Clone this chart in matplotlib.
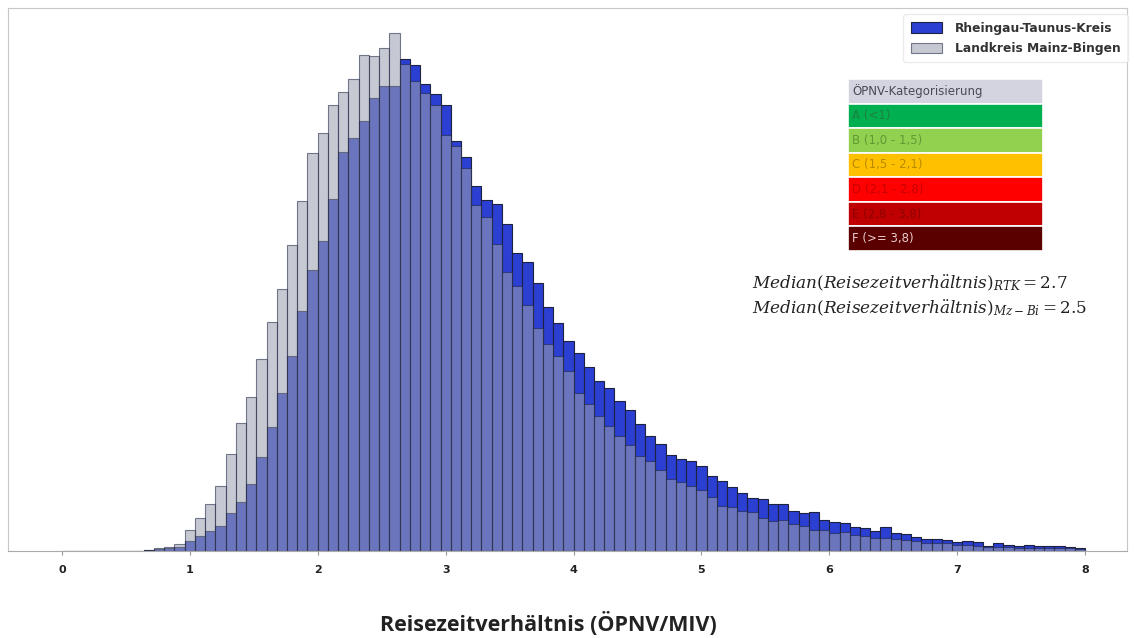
import numpy as np
import matplotlib
matplotlib.use("Agg")
import matplotlib.pyplot as plt

# histogram bins: width 0.08 from 0 to 8
bin_width = 0.08
bin_edges = np.round(np.arange(0, 8.0 + bin_width / 2, bin_width), 2)

# bin heights (relative counts)
rtk = [0] * 8 + [
    0.5, 2, 3, 4, 10, 15, 20, 25, 38, 49, 67, 94, 124, 158, 195, 240, 281, 310,
    352, 399, 413, 430, 453, 465, 465, 492, 486, 467, 457, 446, 410, 394, 365,
    351, 347, 327, 298, 289, 268, 244, 228, 210, 198, 184, 170, 163, 150, 141,
    127, 115, 107, 96, 92, 90, 85, 75, 70, 64, 57.5, 52.5, 51.5, 47, 46.5, 40,
    38, 38.5, 31, 29.3, 27.5, 24.3, 22.7, 20, 23.7, 18, 17, 14.3, 12.3, 12.3,
    11, 8.7, 10.3, 8.7, 5.3, 7.7, 6.3, 5.3, 5.7, 5, 5, 4.7, 4.3, 2.7]
mzbi = [0] * 8 + [
    1, 2.5, 4, 7, 21, 33, 47, 65, 97, 128, 154, 192, 229, 262, 306, 350, 398,
    418, 446, 459, 472, 496, 495, 503, 518, 487, 470, 458, 446, 416, 405, 383,
    346, 334, 307, 279, 265, 246, 223, 207, 195, 180, 158, 147, 135, 125, 115,
    106, 95, 90, 81, 72, 69, 65, 61, 54, 45, 43.5, 40, 39, 32.5, 30, 31, 27,
    24.5, 21, 20.5, 18, 19, 15.5, 14.5, 13, 12.7, 11.5, 11, 9.7, 7.7, 8.3, 7.7,
    6, 6.3, 5, 4.3, 4.3, 3.7, 3.3, 3.3, 3, 2.7, 2.7, 2.7, 2]

series_labels = ["Rheingau-Taunus-Kreis", "Landkreis Mainz-Bingen"]
xticks = [0, 1, 2, 3, 4, 5, 6, 7, 8]

# category table
table_header = "ÖPNV-Kategorisierung"
categories = ["A (<1)", "B (1,0 - 1,5)", "C (1,5 - 2,1)", "D (2,1 - 2,8)",
              "E (2,8 - 3,8)", "F (>= 3,8)"]
cat_colors = ["#00b050", "#92d050", "#ffc000", "#ff0000", "#c00000", "#5a0000"]
cat_text_colors = ["#1f7f3f", "#5f9a35", "#b98a00", "#c80000", "#8c0000", "#e9cccc"]

medians = [("RTK", 2.7), ("Mz-Bi", 2.5)]

fig = plt.figure(figsize=(11.34, 6.38), dpi=100)
ax = fig.add_axes([0.007, 0.1364, 0.9868, 0.8511])

ax.bar(bin_edges[:-1], rtk, width=bin_width, align="edge", color="#2b3fd2",
       edgecolor="#1c2240", linewidth=0.8, label=series_labels[0])
ax.bar(bin_edges[:-1], mzbi, width=bin_width, align="edge", color="#9b9fb0",
       alpha=0.57, edgecolor="#1c2240", linewidth=0.8, label=series_labels[1])

ax.set_xlim(-0.422, 8.327)
ax.set_ylim(0, 543)
ax.set_yticks([])
ax.set_xticks(xticks)
ax.set_xticklabels([str(t) for t in xticks], fontsize=8, fontweight="bold",
                   color="#222222")
ax.tick_params(axis="x", length=3, color="#999999", pad=7)
for s in ax.spines.values():
    s.set_color("#c8c8c8")
    s.set_linewidth(0.8)
ax.spines["bottom"].set_color("#aaaaaa")

ax.set_xlabel("Reisezeitverhältnis (ÖPNV/MIV)", fontsize=15.5, fontweight="bold",
              family="Open Sans", color="#222222")
ax.xaxis.set_label_coords(0.4826, -0.112)

leg = ax.legend(loc="upper right", bbox_to_anchor=(1.004, 0.995), fontsize=8.8,
                frameon=True, borderpad=0.6, borderaxespad=0.3,
                handlelength=2.6, handleheight=0.9, handletextpad=1.0,
                labelspacing=0.6)
for t in leg.get_texts():
    t.set_fontweight("bold")
    t.set_color("#333333")
leg.get_frame().set_edgecolor("#e6e6e6")

# category table
cells = [[table_header]] + [[c] for c in categories]
tbl = ax.table(cellText=cells, cellColours=[["#d3d4df"]] + [[c] for c in cat_colors],
               cellLoc="left", bbox=[0.7507, 0.5525, 0.1743, 0.3167])
tbl.auto_set_font_size(False)
tbl.set_fontsize(8.5)
text_colors = ["#4a4a55"] + cat_text_colors
for (r, c), cell in tbl.get_celld().items():
    cell.set_edgecolor("white")
    cell.set_linewidth(1.2)
    cell.get_text().set_color(text_colors[r])
    cell.PAD = 0.02

# median annotations
plt.rcParams["mathtext.fontset"] = "dejavuserif"
ys = [0.4936, 0.4475]
for (lab, val), y in zip(medians, ys):
    ax.text(0.665, y, r"$Median(Reisezeitverh\ddot{a}ltnis)_{%s} = %.1f$" % (lab, val),
            transform=ax.transAxes, fontsize=12.2, va="center", ha="left",
            color="#222222")

fig.savefig("out.png", dpi=100)
